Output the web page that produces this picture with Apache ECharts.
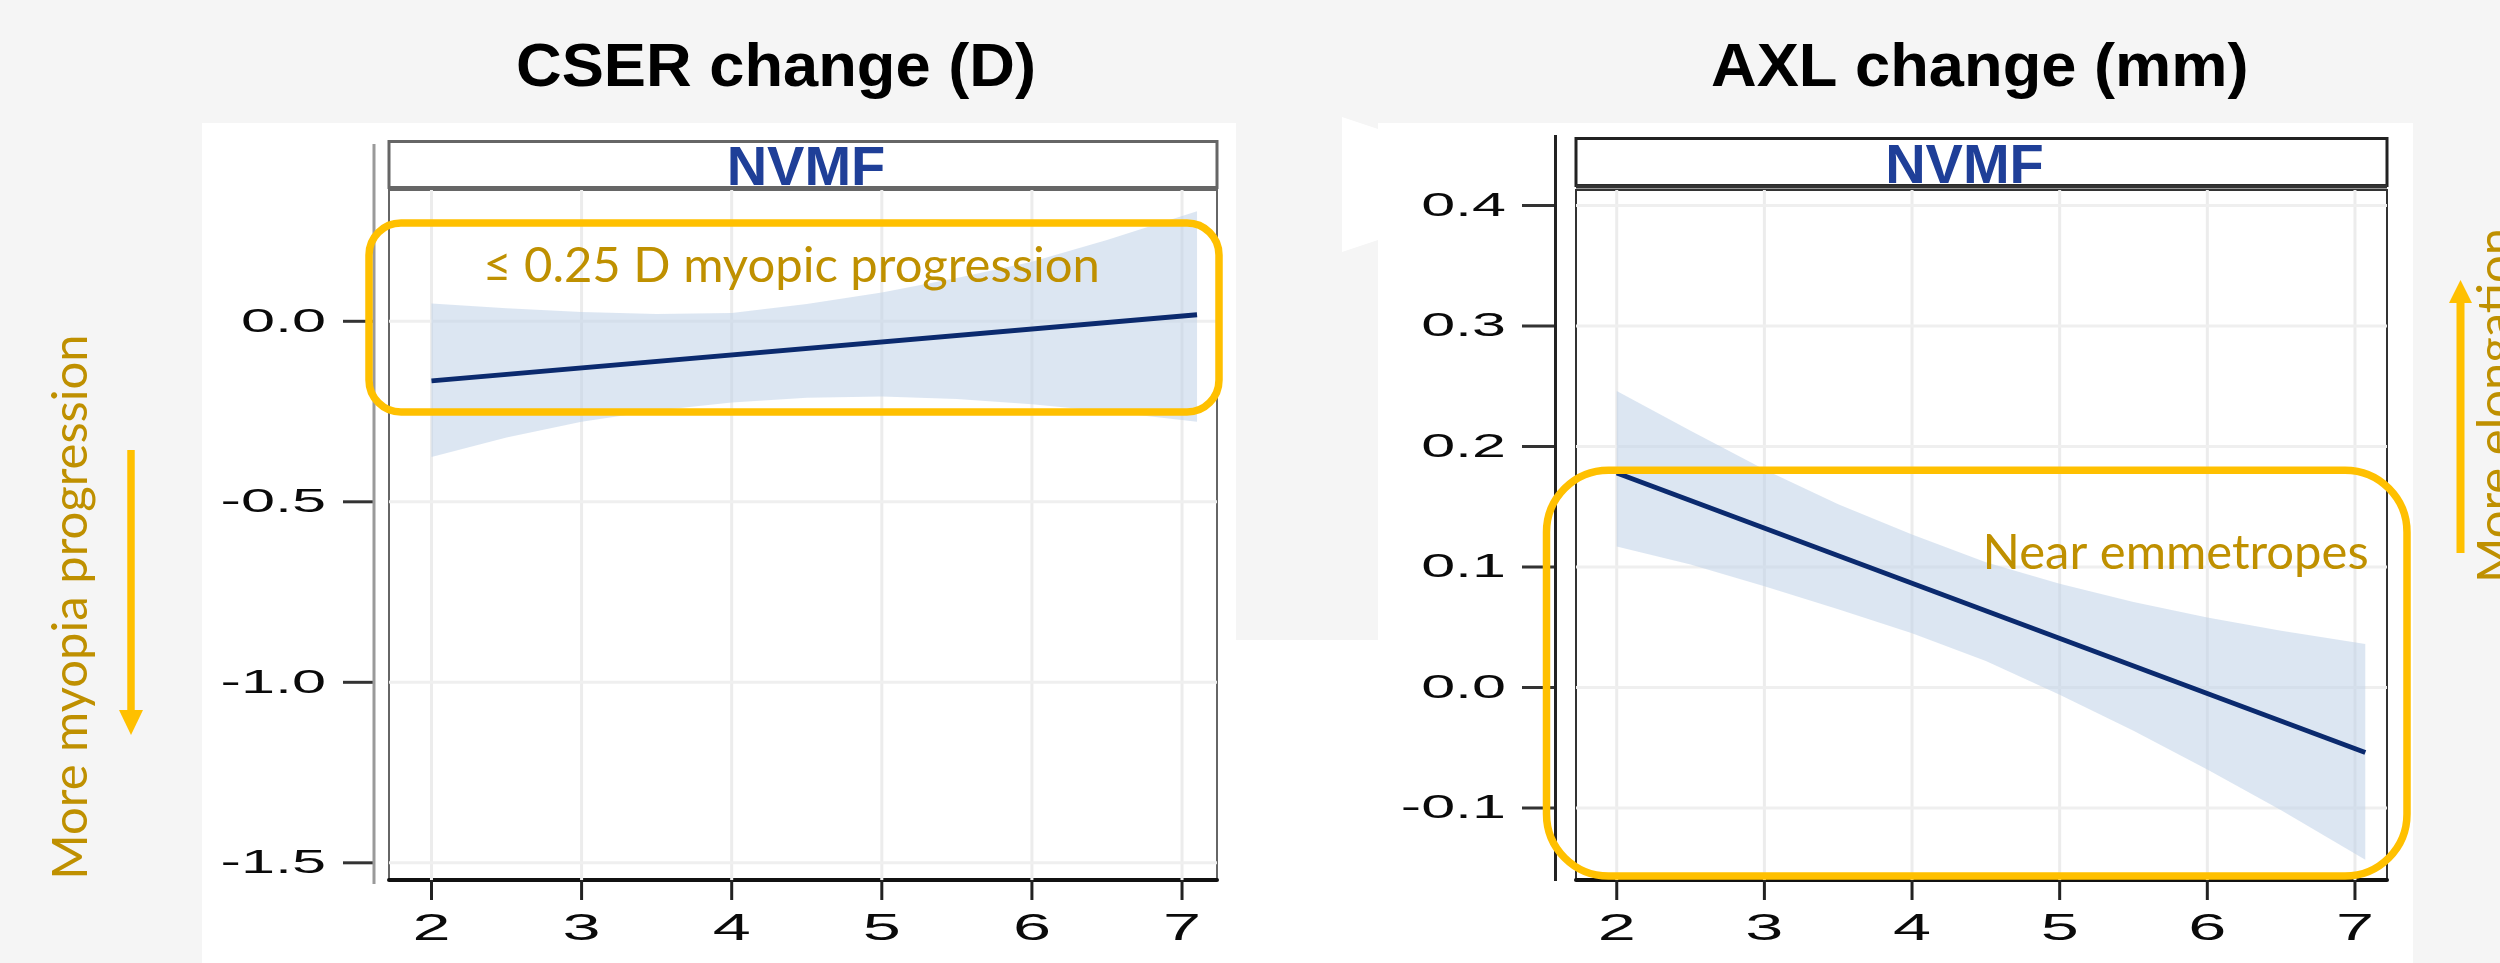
<!DOCTYPE html>
<html><head><meta charset="utf-8">
<script src="https://cdn.jsdelivr.net/npm/echarts@6/dist/echarts.min.js"></script>
<style>html,body{margin:0;padding:0;background:#f5f5f5;}#c{width:2500px;height:963px;}</style>
</head><body><div id="c"></div>
<script>
// ---------------- data ----------------
const panelTitles = ['CSER change (D)', 'AXL change (mm)'];
const stripLabel = 'NVMF';
const xTicks = [2, 3, 4, 5, 6, 7];
const cserTicks = [0.0, -0.5, -1.0, -1.5];
const axlTicks = [0.4, 0.3, 0.2, 0.1, 0.0, -0.1];

// fitted (straight) regression lines: end points
const cserFitX = [2, 7.1];
const cserFit  = [-0.165, 0.018];
const axlFitX  = [2, 7.07];
const axlFit   = [0.178, -0.054];

// confidence bands
const cserX     = [2, 2.5, 3, 3.5, 4, 4.5, 5, 5.5, 6, 6.5, 7.1];
const cserUpper = [0.049, 0.036, 0.026, 0.020, 0.023, 0.048, 0.080, 0.120, 0.165, 0.225, 0.305];
const cserLower = [-0.376, -0.322, -0.278, -0.247, -0.225, -0.212, -0.208, -0.215, -0.230, -0.250, -0.278];

const axlX     = [2, 2.5, 3, 3.5, 4, 4.5, 5, 5.5, 6, 6.5, 7.07];
const axlUpper = [0.246, 0.213, 0.181, 0.152, 0.127, 0.104, 0.086, 0.071, 0.058, 0.047, 0.036];
const axlLower = [0.117, 0.102, 0.084, 0.065, 0.045, 0.022, -0.006, -0.036, -0.068, -0.102, -0.143];

const annotations = ['\u2264 0.25 D myopic progression', 'Near emmetropes'];
const sideLabels = ['More myopia progression', 'More elongation'];

// ---------------- layout ----------------
const GOLD = '#FFC000', GOLD_TXT = '#BF9000';
const TICK_FONT = '"Liberation Sans", Arial, sans-serif';
const panels = [
  { fx: cserFitX, fit: cserFit, x: cserX, up: cserUpper, lo: cserLower, yTicks: cserTicks,
    grid: {left: 389, top: 190, width: 828, height: 690}, xMin: 1.717, xMax: 7.233, yMin: -1.5476, yMax: 0.3637,
    frame: '#666', yLab: -63, tA: -46, tB: -15, yFont: 34, ySX: 1.8, xFont: 36, xSX: 1.9 },
  { fx: axlFitX, fit: axlFit, x: axlX, up: axlUpper, lo: axlLower, yTicks: axlTicks,
    grid: {left: 1576, top: 190, width: 811, height: 690}, xMin: 1.724, xMax: 7.217, yMin: -0.1598, yMax: 0.4129,
    frame: '#333', yLab: -70, tA: -54, tB: -21, yFont: 33, ySX: 1.85, xFont: 36, xSX: 1.9 }
];

const grids = [], xAxes = [], yAxes = [], series = [];
panels.forEach((P, i) => {
  grids.push(Object.assign({show: true, borderColor: P.frame, borderWidth: 2, backgroundColor: 'transparent'}, P.grid));
  xAxes.push({type: 'value', gridIndex: i, min: P.xMin, max: P.xMax,
    axisLine: {show: true, onZero: false, lineStyle: {color: '#111', width: 4}},
    axisTick: {show: false}, axisLabel: {show: false}, splitLine: {show: false}});
  yAxes.push({type: 'value', gridIndex: i, min: P.yMin, max: P.yMax,
    axisLine: {show: false}, axisTick: {show: false}, axisLabel: {show: false}, splitLine: {show: false}});

  // vertical grid lines
  series.push({type: 'custom', xAxisIndex: i, yAxisIndex: i, silent: true, z: 1, clip: false,
    data: xTicks.map(v => [v, P.yMin]),
    renderItem: (p, api) => {
      const v = api.value(0), a = api.coord([v, P.yMax]), b = api.coord([v, P.yMin]);
      return {type: 'line', shape: {x1: a[0], y1: a[1], x2: b[0], y2: b[1]}, style: {stroke: '#ececec', lineWidth: 3}};
    }});
  // horizontal grid lines
  series.push({type: 'custom', xAxisIndex: i, yAxisIndex: i, silent: true, z: 1, clip: false,
    data: P.yTicks.map(v => [P.xMin, v]),
    renderItem: (p, api) => {
      const v = api.value(1), a = api.coord([P.xMin, v]), b = api.coord([P.xMax, v]);
      return {type: 'line', shape: {x1: a[0], y1: a[1], x2: b[0], y2: b[1]}, style: {stroke: '#efefef', lineWidth: 3}};
    }});
  // confidence band
  series.push({type: 'custom', xAxisIndex: i, yAxisIndex: i, silent: true, z: 2,
    data: [[P.x[0], P.up[0]]],
    renderItem: (p, api) => {
      const pts = [];
      for (let k = 0; k < P.x.length; k++) pts.push(api.coord([P.x[k], P.up[k]]));
      for (let k = P.x.length - 1; k >= 0; k--) pts.push(api.coord([P.x[k], P.lo[k]]));
      return {type: 'polygon', shape: {points: pts}, style: {fill: 'rgba(191,209,231,0.55)'}};
    }});
  // fitted line
  series.push({type: 'line', xAxisIndex: i, yAxisIndex: i, z: 3, silent: true, showSymbol: false,
    data: P.fx.map((x, k) => [x, P.fit[k]]),
    lineStyle: {color: '#0b2a6e', width: 5}});
  // x ticks + labels
  series.push({type: 'custom', xAxisIndex: i, yAxisIndex: i, silent: true, z: 4, clip: false,
    data: xTicks.map(v => [v, P.yMin]),
    renderItem: (p, api) => {
      const v = api.value(0), a = api.coord([v, P.yMin]);
      return {type: 'group', children: [
        {type: 'line', shape: {x1: a[0], y1: a[1], x2: a[0], y2: a[1] + 20}, style: {stroke: '#222', lineWidth: 3}},
        {type: 'text', x: a[0], y: a[1] + 50, scaleX: P.xSX,
         style: {text: String(v), fill: '#0a0a0a', font: P.xFont + 'px ' + TICK_FONT, align: 'center', verticalAlign: 'middle'}}
      ]};
    }});
  // y ticks + labels
  series.push({type: 'custom', xAxisIndex: i, yAxisIndex: i, silent: true, z: 4, clip: false,
    data: P.yTicks.map(v => [P.xMin, v]),
    renderItem: (p, api) => {
      const v = api.value(1), a = api.coord([P.xMin, v]);
      return {type: 'group', children: [
        {type: 'line', shape: {x1: a[0] + P.tA, y1: a[1], x2: a[0] + P.tB, y2: a[1]}, style: {stroke: '#333', lineWidth: 3}},
        {type: 'text', x: a[0] + P.yLab, y: a[1] + 1, scaleX: P.ySX,
         style: {text: v.toFixed(1), fill: '#0a0a0a', font: P.yFont + 'px ' + TICK_FONT, align: 'right', verticalAlign: 'middle'}}
      ]};
    }});
});

// ---------------- decorations ----------------
const TITLE_FONT = 'bold 62px "Liberation Sans", Arial, sans-serif';
const graphic = [
  // white panel backgrounds
  {type: 'rect', z: -100, shape: {x: 202, y: 123, width: 1034, height: 840}, style: {fill: '#ffffff'}},
  {type: 'rect', z: -100, shape: {x: 1378, y: 123, width: 1035, height: 840}, style: {fill: '#ffffff'}},
  {type: 'rect', z: -100, shape: {x: 1236, y: 640, width: 142, height: 323}, style: {fill: '#ffffff'}},
  {type: 'polygon', z: -100, shape: {points: [[1342, 117], [1378, 129], [1378, 240], [1342, 252]]}, style: {fill: '#ffffff'}},
  // titles
  {type: 'text', z: 50, x: 516, y: 69, scaleX: 1.02,
   style: {text: panelTitles[0], fill: '#000', font: TITLE_FONT, align: 'left', verticalAlign: 'middle'}},
  {type: 'text', z: 50, x: 1711, y: 69, scaleX: 1.02,
   style: {text: panelTitles[1], fill: '#000', font: TITLE_FONT, align: 'left', verticalAlign: 'middle'}},
  // y axis lines (offset from frame)
  {type: 'line', z: 40, shape: {x1: 374, y1: 144, x2: 374, y2: 884}, style: {stroke: '#9a9a9a', lineWidth: 3}},
  {type: 'line', z: 40, shape: {x1: 1555.5, y1: 135, x2: 1555.5, y2: 881}, style: {stroke: '#222', lineWidth: 3}},
  // strips
  {type: 'rect', z: 40, shape: {x: 389, y: 141.5, width: 828, height: 46}, style: {fill: '#fff', stroke: '#666', lineWidth: 3}},
  {type: 'text', z: 41, x: 806, y: 170, style: {text: stripLabel, fill: '#1f3f98', font: 'bold 56px "Liberation Sans", Arial, sans-serif', align: 'center', verticalAlign: 'middle'}},
  {type: 'line', z: 42, shape: {x1: 389, y1: 188, x2: 1217, y2: 188}, style: {stroke: '#666', lineWidth: 4}},
  {type: 'rect', z: 40, shape: {x: 1576, y: 138.5, width: 811, height: 47}, style: {fill: '#fff', stroke: '#222', lineWidth: 3}},
  {type: 'text', z: 41, x: 1964.5, y: 168, style: {text: stripLabel, fill: '#1f3f98', font: 'bold 56px "Liberation Sans", Arial, sans-serif', align: 'center', verticalAlign: 'middle'}},
  {type: 'line', z: 42, shape: {x1: 1576, y1: 186.5, x2: 2387, y2: 186.5}, style: {stroke: '#333', lineWidth: 4}},
  // highlight boxes
  {type: 'rect', z: 60, shape: {x: 369, y: 223, width: 850, height: 189, r: 32}, style: {fill: 'none', stroke: GOLD, lineWidth: 7.5}},
  {type: 'rect', z: 60, shape: {x: 1546.5, y: 470.3, width: 860.5, height: 405.7, r: 62}, style: {fill: 'none', stroke: GOLD, lineWidth: 7.5}},
  // annotation texts
  {type: 'text', z: 61, x: 483, y: 266, style: {text: annotations[0], fill: GOLD_TXT, font: '49px Lato, "Open Sans", sans-serif', align: 'left', verticalAlign: 'middle'}},
  {type: 'text', z: 61, x: 1982.5, y: 553, style: {text: annotations[1], fill: GOLD_TXT, font: '49px Lato, "Open Sans", sans-serif', align: 'left', verticalAlign: 'middle'}},
  // side labels (rotated)
  {type: 'text', z: 61, x: 71.7, y: 607, rotation: Math.PI / 2, style: {text: sideLabels[0], fill: GOLD_TXT, font: '49px Lato, "Open Sans", sans-serif', align: 'center', verticalAlign: 'middle'}},
  {type: 'text', z: 61, x: 2496, y: 583, rotation: Math.PI / 2, style: {text: sideLabels[1], fill: GOLD_TXT, font: '49px Lato, "Open Sans", sans-serif', align: 'left', verticalAlign: 'middle'}},
  // arrows
  {type: 'line', z: 61, shape: {x1: 131, y1: 450, x2: 131, y2: 712}, style: {stroke: GOLD, lineWidth: 7.5}},
  {type: 'polygon', z: 61, shape: {points: [[119, 710], [143, 710], [131, 735]]}, style: {fill: GOLD}},
  {type: 'line', z: 61, shape: {x1: 2460.5, y1: 553, x2: 2460.5, y2: 301}, style: {stroke: GOLD, lineWidth: 8}},
  {type: 'polygon', z: 61, shape: {points: [[2449, 303], [2472, 303], [2460.5, 280]]}, style: {fill: GOLD}}
];

const chart = echarts.init(document.getElementById('c'), null, {renderer: 'canvas', width: 2500, height: 963});
chart.setOption({
  backgroundColor: '#f5f5f5',
  animation: false,
  grid: grids, xAxis: xAxes, yAxis: yAxes, series: series, graphic: graphic
});
</script>
</body></html>
